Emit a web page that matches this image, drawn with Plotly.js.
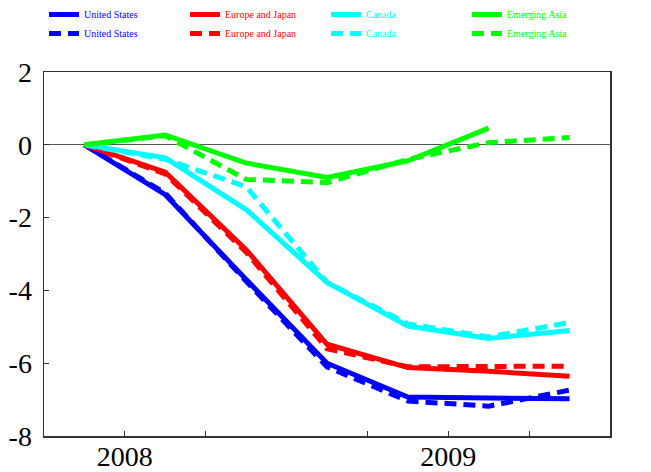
<!DOCTYPE html>
<html>
<head>
<meta charset="utf-8">
<script src="https://cdn.plot.ly/plotly-3.0.1.min.js"></script>
<style>
  html, body { margin:0; padding:0; background:#fff; }
  #plot { width:651px; height:472px; }
</style>
</head>
<body>
<div id="plot"></div>
<script>
// Quarter mid-points, 2008 Q2 .. 2009 Q4
const quarters = [2008.375, 2008.625, 2008.875, 2009.125, 2009.375, 2009.625, 2009.875];

const usSolid = [0, -1.37, -3.70, -6.00, -6.93, -6.95, -6.98];
const usDash  = [0, -1.33, -3.75, -6.10, -7.04, -7.18, -6.74];
const ejSolid = [0, -0.75, -2.88, -5.48, -6.12, -6.22, -6.36];
const ejDash  = [0, -0.80, -2.95, -5.60, -6.10, -6.10, -6.08];
const caSolid = [0, -0.36, -1.78, -3.78, -4.98, -5.32, -5.10];
const caDash  = [0, -0.40, -1.15, -3.78, -4.92, -5.28, -4.88];
const eaSolid = [0, 0.27, -0.50, -0.90, -0.44, 0.46];
const eaDash  = [0, 0.25, -0.95, -1.04, -0.40, 0.06, 0.20];

const names  = ['United States', 'Europe and Japan', 'Canada', 'Emerging Asia'];
const colors = ['#0000ff', '#ff0000', '#00ffff', '#00ff00'];

const yearTicks  = [2008.5, 2009.5];
const yearLabels = ['2008', '2009'];
const yTicks  = [-8, -6, -4, -2, 0, 2];
const yLabels = ['-8', '-6', '-4', '-2', '0', '2'];

const serif = "'Liberation Serif', 'Times New Roman', Times, serif";

function series(y, i, dashed) {
  return {
    x: quarters.slice(0, y.length), y: y,
    type: 'scatter', mode: 'lines',
    name: '<span style="color:' + colors[i] + '">' + names[i] + '</span>',
    line: { color: colors[i], width: 5, dash: dashed ? '12px,7px' : 'solid' },
    hoverinfo: 'skip'
  };
}

const traces = [
  series(usSolid, 0, false), series(ejSolid, 1, false),
  series(caSolid, 2, false), series(eaSolid, 3, false),
  series(usDash, 0, true),   series(ejDash, 1, true),
  series(caDash, 2, true),   series(eaDash, 3, true)
];

const axisFont = { family: serif, size: 28, color: '#000' };

Plotly.newPlot('plot', traces, {
  width: 651, height: 472,
  margin: { l: 44, r: 41, t: 72, b: 36 },
  paper_bgcolor: '#fff', plot_bgcolor: '#fff',
  font: { family: serif },
  showlegend: true,
  legend: {
    orientation: 'h', xref: 'paper', yref: 'container',
    x: 0.0, y: 1.0, xanchor: 'left', yanchor: 'top',
    entrywidth: 96, entrywidthmode: 'pixels',
    font: { family: serif, size: 10 },
    bgcolor: 'rgba(0,0,0,0)', borderwidth: 0
  },
  xaxis: {
    range: [2008.25, 2010.0],
    tickmode: 'array', tickvals: yearTicks, ticktext: yearLabels,
    ticks: 'inside', ticklen: 5, tickcolor: '#333',
    minor: { tickmode: 'array', tickvals: [2008.75, 2009.25, 2009.75], ticks: 'inside', ticklen: 5, tickcolor: '#333' },
    showline: true, linecolor: '#333', linewidth: 1.5, mirror: true,
    showgrid: false, zeroline: false,
    tickfont: axisFont, ticklabelstandoff: -5, fixedrange: true
  },
  xaxis2: {
    overlaying: 'x', range: [2008.25, 2010.0],
    tickmode: 'array', tickvals: [2009.0], ticktext: [''],
    ticks: 'inside', ticklen: 12, tickcolor: '#333',
    showline: false, showgrid: false, zeroline: false, anchor: 'y'
  },
  yaxis: {
    range: [-8, 2],
    tickmode: 'array', tickvals: yTicks, ticktext: yLabels,
    ticks: 'inside', ticklen: 5, tickcolor: '#333',
    showline: true, linecolor: '#333', linewidth: 1.5, mirror: true,
    showgrid: false,
    zeroline: true, zerolinecolor: '#555', zerolinewidth: 1,
    tickfont: axisFont, ticklabelstandoff: 5, fixedrange: true
  },
  yaxis2: {
    overlaying: 'y', side: 'right', range: [-8, 2],
    tickmode: 'array', tickvals: yTicks, ticktext: yLabels,
    ticks: 'inside', ticklen: 5, tickcolor: '#333',
    showline: false, showgrid: false, zeroline: false,
    tickfont: axisFont, ticklabelstandoff: 5
  }
}, { displayModeBar: false, staticPlot: true });
</script>
</body>
</html>
